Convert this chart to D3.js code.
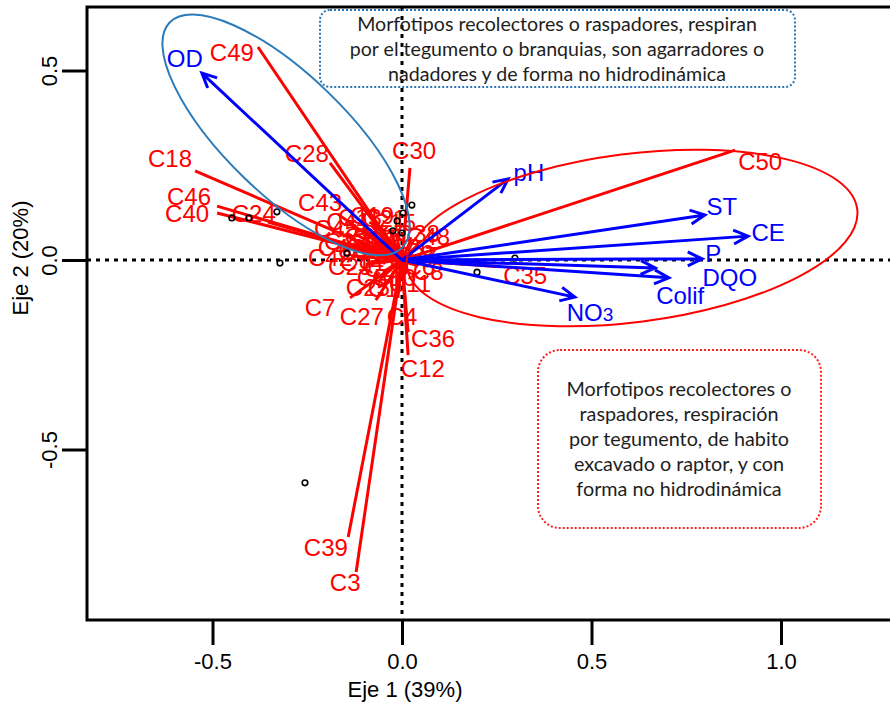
<!DOCTYPE html>
<html>
<head>
<meta charset="utf-8">
<script src="https://cdn.jsdelivr.net/npm/d3@7"></script>
<style>
  html, body { margin: 0; padding: 0; background: #fff; }
  svg { display: block; }
</style>
</head>
<body>
<svg id="chart" width="890" height="702"></svg>
<script>
// Axis ticks
const xTicks = [-0.5, 0.0, 0.5, 1.0];
const yTicks = [-0.5, 0.0, 0.5];

// Species scores: line end (spX, spY) and label position (spLX, spLY)
const spNames = ["C49","C28","C30","C18","C46","C40","C24","C43","C50","C35","C7","C27","C4","C36","C12","C39","C3",
  "C42","C29","C45","C41","C13","C19","C21","C15","C9","C17","C23","C31","C38","C48","C26",
  "C1","C8","C6","C5","C10","C11","C14","C20","C25","C32","C34","C47","C37"];
const spX = [-0.380,-0.190,0.021,-0.546,-0.488,-0.488,-0.354,-0.169,0.879,0.259,-0.137,-0.069,-0.011,0.016,0.016,-0.142,-0.121,
  -0.132,-0.095,-0.124,-0.103,-0.079,-0.058,-0.034,-0.016,-0.074,-0.047,-0.106,-0.026,0.021,0.042,0.013,
  -0.032,0.042,0.026,-0.050,-0.013,0.011,-0.069,-0.026,-0.058,-0.042,-0.074,-0.121,0.021];
const spY = [0.562,0.256,0.243,0.235,0.142,0.124,0.100,0.121,0.290,-0.018,-0.100,-0.106,-0.100,-0.190,-0.251,-0.731,-0.823,
  0.011,-0.011,0.069,0.084,0.090,0.090,0.082,0.071,0.050,0.042,0.037,0.034,0.047,0.040,0.021,
  -0.047,-0.016,-0.011,-0.032,-0.026,-0.037,-0.005,-0.016,-0.050,0.018,0.021,0.026,0.008];
const spLX = [-0.449,-0.251,0.032,-0.612,-0.562,-0.567,-0.391,-0.216,0.945,0.325,-0.216,-0.106,0.000,0.082,0.055,-0.201,-0.150,
  -0.190,-0.137,-0.174,-0.142,-0.111,-0.079,-0.047,-0.021,-0.111,-0.074,-0.148,-0.037,0.042,0.069,0.026,
  -0.050,0.069,0.047,-0.079,-0.021,0.021,-0.106,-0.042,-0.090,-0.069,-0.111,-0.164,0.037];
const spLY = [0.549,0.282,0.288,0.269,0.169,0.124,0.124,0.153,0.261,-0.040,-0.124,-0.148,-0.150,-0.206,-0.285,-0.757,-0.850,
  0.008,-0.018,0.084,0.103,0.113,0.119,0.111,0.100,0.063,0.058,0.050,0.053,0.071,0.063,0.034,
  -0.074,-0.029,-0.018,-0.045,-0.045,-0.061,-0.005,-0.021,-0.071,0.024,0.024,0.034,0.011];

// Environmental vectors: arrow tip (envX, envY) and label position (envLX, envLY)
const envNames = ["OD","pH","ST","CE","P","DQO","Colif","NO3"];
const envX = [-0.528,0.280,0.799,0.913,0.792,0.668,0.704,0.456];
const envY = [0.493,0.214,0.119,0.063,0.003,-0.021,-0.047,-0.098];
const envLX = [-0.573,0.335,0.844,0.966,0.821,0.865,0.734,0.496];
const envLY = [0.533,0.230,0.142,0.074,0.018,-0.045,-0.092,-0.137];

// Site scores
const siteX = [-0.449,-0.404,-0.330,-0.322,-0.256,0.026,0.003,-0.013,-0.024,0.000,0.198,0.298,-0.145];
const siteY = [0.111,0.111,0.127,-0.008,-0.588,0.145,0.124,0.103,0.077,0.071,-0.032,0.005,0.018];

// Group ellipses: centre, semi-axes and rotation (degrees, counter-clockwise)
const groupCX = [-0.306, 0.607];
const groupCY = [0.330, 0.058];
const groupA = [0.427, 0.599];
const groupB = [0.158, 0.222];
const groupAngle = [-44, 7.3];
const groupColor = ["#2b7bba", "#ff0000"];

// Annotation boxes
const boxTopLines = ["Morfotipos recolectores o raspadores, respiran",
  "por el tegumento o branquias, son agarradores o",
  "nadadores y de forma no hidrodinámica"];
const boxBottomLines = ["Morfotipos recolectores o", "raspadores, respiración",
  "por tegumento, de habito", "excavado o raptor, y con", "forma no hidrodinámica"];

const svg = d3.select("#chart");
const FONT = "'Liberation Sans', Arial, sans-serif";

const ox = 402, oy = 260, k = 379;
const x = d3.scaleLinear().domain([-1, 1]).range([ox - k, ox + k]);
const y = d3.scaleLinear().domain([-1, 1]).range([oy + k, oy - k]);

const pLeft = 87, pTop = 7, pBottom = 620, pRight = 905;

// Zero lines
svg.append("line").attr("x1", pLeft).attr("x2", pRight).attr("y1", y(0)).attr("y2", y(0))
  .attr("stroke", "#000").attr("stroke-width", 3).attr("stroke-dasharray", "4,5");
svg.append("line").attr("x1", x(0)).attr("x2", x(0)).attr("y1", pTop).attr("y2", pBottom)
  .attr("stroke", "#000").attr("stroke-width", 3).attr("stroke-dasharray", "4,5");

// Species
const sp = spNames.map((n, i) => ({n, x: spX[i], y: spY[i], lx: spLX[i], ly: spLY[i]}));
svg.append("g").selectAll("line").data(sp).join("line")
  .attr("x1", x(0)).attr("y1", y(0)).attr("x2", d => x(d.x)).attr("y2", d => y(d.y))
  .attr("stroke", "#ff0000").attr("stroke-width", 3);
svg.append("g").selectAll("text").data(sp).join("text")
  .attr("x", d => x(d.lx)).attr("y", d => y(d.ly)).attr("dy", "0.36em")
  .attr("text-anchor", "middle").attr("fill", "#ff0000")
  .style("font-family", FONT).style("font-size", "24px").text(d => d.n);

// Sites
svg.append("g").selectAll("circle").data(siteX.map((v, i) => [v, siteY[i]])).join("circle")
  .attr("cx", d => x(d[0])).attr("cy", d => y(d[1])).attr("r", 2.8)
  .attr("fill", "none").attr("stroke", "#000").attr("stroke-width", 1.6);

// Environmental arrows
const env = envNames.map((n, i) => ({n, x: envX[i], y: envY[i], lx: envLX[i], ly: envLY[i]}));
const gEnv = svg.append("g");
env.forEach(d => {
  const x2 = x(d.x), y2 = y(d.y);
  const ang = Math.atan2(y2 - y(0), x2 - x(0));
  const L = 16, spread = Math.PI / 7;
  const p = d3.path();
  p.moveTo(x(0), y(0)); p.lineTo(x2, y2);
  p.moveTo(x2 - L * Math.cos(ang - spread), y2 - L * Math.sin(ang - spread));
  p.lineTo(x2, y2);
  p.lineTo(x2 - L * Math.cos(ang + spread), y2 - L * Math.sin(ang + spread));
  gEnv.append("path").attr("d", p.toString()).attr("fill", "none")
    .attr("stroke", "#0000ff").attr("stroke-width", 3).attr("stroke-linejoin", "miter");
  const t = gEnv.append("text").attr("x", x(d.lx)).attr("y", y(d.ly))
    .attr("dy", "0.36em").attr("text-anchor", "middle").attr("fill", "#0000ff")
    .style("font-family", FONT).style("font-size", "24px");
  if (d.n === "NO3") {
    t.append("tspan").text("NO");
    t.append("tspan").style("font-size", "19px").text("3");
  } else t.text(d.n);
});

// Group ellipses
groupCX.forEach((c, i) => {
  svg.append("ellipse")
    .attr("cx", 0).attr("cy", 0)
    .attr("rx", x(groupA[i]) - x(0)).attr("ry", x(groupB[i]) - x(0))
    .attr("transform", `translate(${x(c)},${y(groupCY[i])}) rotate(${-groupAngle[i]})`)
    .attr("fill", "none").attr("stroke", groupColor[i]).attr("stroke-width", 2);
});

// Frame
svg.append("rect").attr("x", pLeft).attr("y", pTop).attr("width", pRight - pLeft).attr("height", pBottom - pTop)
  .attr("fill", "none").attr("stroke", "#000").attr("stroke-width", 3);

// Axes
const fmt = d => d.toFixed(1);
const gx = svg.append("g").attr("transform", `translate(0,${pBottom})`)
  .call(d3.axisBottom(x).tickValues(xTicks).tickFormat(fmt).tickSize(25).tickPadding(8));
gx.select(".domain").remove();
gx.selectAll("line").attr("stroke", "#000").attr("stroke-width", 3);
gx.selectAll("text").style("font-family", FONT).style("font-size", "22px").attr("fill", "#000");

const gy = svg.append("g").attr("transform", `translate(${pLeft},0)`)
  .call(d3.axisLeft(y).tickValues(yTicks).tickFormat(fmt).tickSize(25).tickPadding(8));
gy.select(".domain").remove();
gy.selectAll(".tick line").attr("stroke", "#000").attr("stroke-width", 3);
gy.selectAll(".tick text").style("font-family", FONT).style("font-size", "22px").attr("fill", "#000")
  .attr("text-anchor", "middle").attr("x", 0).attr("y", -38).attr("dy", "0.36em")
  .attr("transform", "rotate(-90)");

svg.append("text").attr("x", 405).attr("y", 697).attr("text-anchor", "middle")
  .style("font-family", FONT).style("font-size", "22px").text("Eje 1 (39%)");
svg.append("text").attr("transform", "translate(28,258) rotate(-90)").attr("text-anchor", "middle")
  .style("font-family", FONT).style("font-size", "22px").text("Eje 2 (20%)");

// Annotation boxes
const BOXFONT = "Lato, 'Open Sans', sans-serif";
svg.append("rect").attr("x", 320).attr("y", 10).attr("width", 475).attr("height", 77).attr("rx", 10)
  .attr("fill", "none").attr("stroke", "#2e75b6").attr("stroke-width", 2).attr("stroke-dasharray", "2,2");
svg.append("g").selectAll("text").data(boxTopLines).join("text")
  .attr("x", 557).attr("y", (d, i) => 24 + i * 25).attr("dy", "0.36em").attr("text-anchor", "middle")
  .attr("fill", "#1e1e1e").style("font-family", BOXFONT).style("font-size", "19.6px").text(d => d);

svg.append("rect").attr("x", 538).attr("y", 350).attr("width", 283).attr("height", 178).attr("rx", 22)
  .attr("fill", "none").attr("stroke", "#ff2020").attr("stroke-width", 2).attr("stroke-dasharray", "2,2");
svg.append("g").selectAll("text").data(boxBottomLines).join("text")
  .attr("x", 679).attr("y", (d, i) => 389 + i * 25).attr("dy", "0.36em").attr("text-anchor", "middle")
  .attr("fill", "#1e1e1e").style("font-family", BOXFONT).style("font-size", "19.8px").text(d => d);
</script>
</body>
</html>
